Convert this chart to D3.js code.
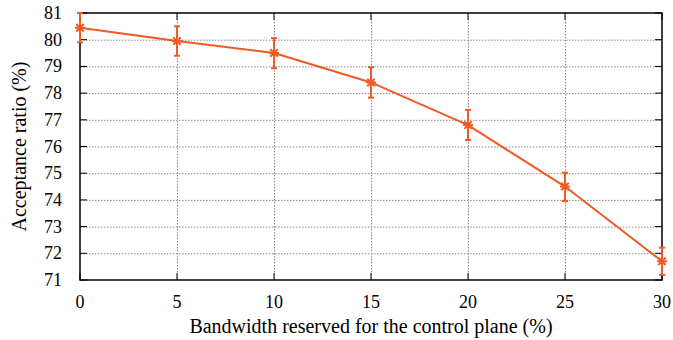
<!DOCTYPE html>
<meta charset="utf-8">
<script src="https://d3js.org/d3.v7.min.js"></script>
<body style="margin:0;background:#fff">
<div id="chart"></div>
<script>
// values
const bandwidth = [0, 5, 10, 15, 20, 25, 30];
const acceptance = [80.45, 79.95, 79.5, 78.4, 76.8, 74.5, 71.7];
const errLow = [79.9, 79.4, 78.93, 77.83, 76.24, 73.96, 71.19];
const errHigh = [81.0, 80.5, 80.06, 78.97, 77.37, 75.02, 72.21];
const xTicks = [0, 5, 10, 15, 20, 25, 30];
const yTicks = [71, 72, 73, 74, 75, 76, 77, 78, 79, 80, 81];

const width = 673, height = 340;
const margin = {left: 80, right: 11, top: 13, bottom: 60};
const color = '#f15a24';
const font = 'Liberation Serif';

const svg = d3.select('#chart').append('svg')
	.attr('width', width)
	.attr('height', height)
	.attr('font-family', font);

const x = d3.scaleLinear().domain([0, 30]).range([margin.left, width - margin.right]);
const y = d3.scaleLinear().domain([71, 81]).range([height - margin.bottom, margin.top]);

// dotted grid
const grid = svg.append('g')
	.attr('stroke', '#888')
	.attr('stroke-width', 1)
	.attr('stroke-dasharray', '1.5,1.5');
grid.selectAll('.gx').data(xTicks.slice(1, -1)).join('line')
	.attr('x1', d => x(d) + 0.5).attr('x2', d => x(d) + 0.5)
	.attr('y1', y(81)).attr('y2', y(71));
grid.selectAll('.gy').data(yTicks.slice(1, -1)).join('line')
	.attr('y1', d => y(d) + 0.5).attr('y2', d => y(d) + 0.5)
	.attr('x1', x(0)).attr('x2', x(30));

// tick labels drawn as own text so the font is ours
svg.selectAll('.xl').data(xTicks).join('text')
	.attr('x', d => x(d)).attr('y', y(71) + 28)
	.attr('text-anchor', 'middle')
	.attr('font-family', font).attr('font-size', 18)
	.text(d => d);
svg.selectAll('.yl').data(yTicks).join('text')
	.attr('x', x(0) - 18).attr('y', d => y(d) + 6)
	.attr('text-anchor', 'end')
	.attr('font-family', font).attr('font-size', 18)
	.text(d => d);

// inward ticks on all four sides
const tick = 7;
const tk = svg.append('g').attr('stroke', '#000').attr('stroke-width', 1);
tk.selectAll('.tb').data(xTicks).join('line')
	.attr('x1', d => x(d)).attr('x2', d => x(d))
	.attr('y1', y(71)).attr('y2', y(71) - tick);
tk.selectAll('.tt').data(xTicks).join('line')
	.attr('x1', d => x(d)).attr('x2', d => x(d))
	.attr('y1', y(81)).attr('y2', y(81) + tick);
tk.selectAll('.tl').data(yTicks).join('line')
	.attr('y1', d => y(d)).attr('y2', d => y(d))
	.attr('x1', x(0)).attr('x2', x(0) + tick);
tk.selectAll('.tr').data(yTicks).join('line')
	.attr('y1', d => y(d)).attr('y2', d => y(d))
	.attr('x1', x(30)).attr('x2', x(30) - tick);

svg.append('rect')
	.attr('x', x(0)).attr('y', y(81))
	.attr('width', x(30) - x(0)).attr('height', y(71) - y(81))
	.attr('fill', 'none').attr('stroke', '#000').attr('stroke-width', 1.5);

// line
const pts = bandwidth.map((b, i) => ({b, v: acceptance[i], lo: errLow[i], hi: errHigh[i]}));
svg.append('path')
	.datum(pts)
	.attr('fill', 'none')
	.attr('stroke', color)
	.attr('stroke-width', 2)
	.attr('d', d3.line().x(d => x(d.b)).y(d => y(d.v)));

// error bars
const eb = svg.append('g').attr('stroke', color).attr('stroke-width', 2);
eb.selectAll('.v').data(pts).join('line')
	.attr('x1', d => x(d.b)).attr('x2', d => x(d.b))
	.attr('y1', d => y(d.lo)).attr('y2', d => y(d.hi));
eb.selectAll('.lo').data(pts).join('line')
	.attr('x1', d => x(d.b) - 3).attr('x2', d => x(d.b) + 3)
	.attr('y1', d => y(d.lo)).attr('y2', d => y(d.lo));
eb.selectAll('.hi').data(pts).join('line')
	.attr('x1', d => x(d.b) - 3).attr('x2', d => x(d.b) + 3)
	.attr('y1', d => y(d.hi)).attr('y2', d => y(d.hi));

// star markers
const star = svg.append('g').attr('stroke', color).attr('stroke-width', 2);
const r = 5;
pts.forEach(d => {
	const cx = x(d.b), cy = y(d.v);
	star.append('line').attr('x1', cx - r).attr('x2', cx + r).attr('y1', cy).attr('y2', cy);
	star.append('line').attr('x1', cx).attr('x2', cx).attr('y1', cy - r).attr('y2', cy + r);
	star.append('line').attr('x1', cx - r * 0.75).attr('x2', cx + r * 0.75).attr('y1', cy - r * 0.75).attr('y2', cy + r * 0.75);
	star.append('line').attr('x1', cx - r * 0.75).attr('x2', cx + r * 0.75).attr('y1', cy + r * 0.75).attr('y2', cy - r * 0.75);
});

// axis titles
svg.append('text')
	.attr('x', (x(0) + x(30)) / 2).attr('y', 333)
	.attr('text-anchor', 'middle')
	.attr('font-family', font).attr('font-size', 20)
	.text('Bandwidth reserved for the control plane (%)');
svg.append('text')
	.attr('transform', `translate(26,${(y(71) + y(81)) / 2}) rotate(-90)`)
	.attr('text-anchor', 'middle')
	.attr('font-family', font).attr('font-size', 20)
	.text('Acceptance ratio (%)');
</script>
</body>
